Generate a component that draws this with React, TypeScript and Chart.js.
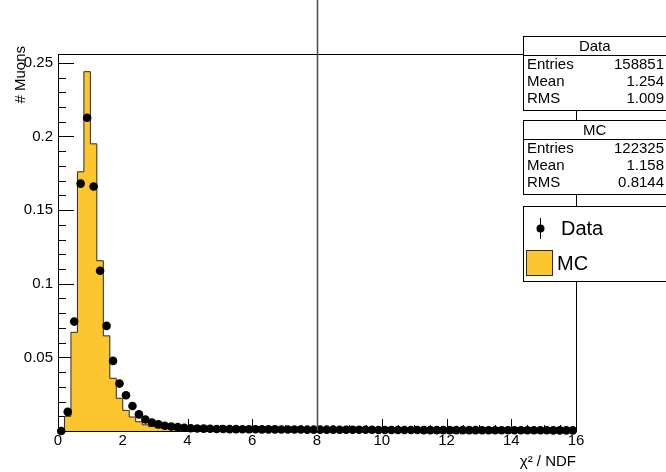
import React, { useEffect, useRef } from "react";
import { Chart, registerables } from "chart.js";

Chart.register(...registerables);

// ---- axis settings ----
const X_MIN = 0;
const X_MAX = 16;
const Y_MIN = 0;
const Y_MAX = 0.256;
const BIN_WIDTH = 0.2;
const X_TICK_STEP = 2;
const Y_TICK_STEP = 0.05;

// ---- series (fraction of muons per 0.2 bin of chi2/NDF) ----
const dataValues: number[] = [
  0.0, 0.013, 0.0743, 0.168, 0.2127, 0.166, 0.1088, 0.0714, 0.0476, 0.0322,
  0.0243, 0.017, 0.0113, 0.0078, 0.0058, 0.0045, 0.0036, 0.003, 0.0026, 0.0022,
  0.0019, 0.0017, 0.0016, 0.0015, 0.0014, 0.0014, 0.0013, 0.0013, 0.0012, 0.0012,
  0.0012, 0.0011, 0.0011, 0.0011, 0.001, 0.001, 0.001, 0.001, 0.0009, 0.0009,
  0.0009, 0.0009, 0.0009, 0.0008, 0.0008, 0.0008, 0.0008, 0.0008, 0.0008, 0.0007,
  0.0007, 0.0007, 0.0007, 0.0007, 0.0007, 0.0007, 0.0006, 0.0006, 0.0006, 0.0006,
  0.0006, 0.0006, 0.0006, 0.0006, 0.0006, 0.0005, 0.0005, 0.0005, 0.0005, 0.0005,
  0.0005, 0.0005, 0.0005, 0.0005, 0.0005, 0.0005, 0.0004, 0.0004, 0.0004, 0.0004,
];

const mcValues: number[] = [
  0.0, 0.01, 0.067, 0.176, 0.244, 0.195, 0.1156, 0.0646, 0.0358, 0.0222,
  0.014, 0.0095, 0.0063, 0.0042, 0.003, 0.0022, 0.0016, 0.0012, 0.0009, 0.0007,
  0.0005, 0.0004, 0.0004, 0.0003, 0.0003, 0.0003, 0.0002, 0.0002, 0.0002, 0.0002,
  0.0001, 0.0001, 0.0001, 0.0001, 0.0001, 0.0001, 0.0001, 0.0001, 0.0001, 0.0001,
  0.0001, 0.0001, 0.0001, 0.0001, 0.0001, 0.0, 0.0, 0.0, 0.0, 0.0,
  0.0, 0.0, 0.0, 0.0, 0.0, 0.0, 0.0, 0.0, 0.0, 0.0,
  0.0, 0.0, 0.0, 0.0, 0.0, 0.0, 0.0, 0.0, 0.0, 0.0,
  0.0, 0.0, 0.0, 0.0, 0.0, 0.0, 0.0, 0.0, 0.0, 0.0,
];

const CUT_VALUE = 8;

const statLabels: string[] = ["Entries", "Mean", "RMS"];
const dataStats: string[] = ["158851", "1.254", "1.009"];
const mcStats: string[] = ["122325", "1.158", "0.8144"];

const legendLabels: string[] = ["Data", "MC"];
const xTitle = "\u03C7\u00B2 / NDF";
const yTitle = "# Muons";

// ---- styles ----
const FONT = '"Liberation Sans", Arial, Helvetica, sans-serif';
const MC_FILL = "#FDC62F";
const MC_LINE = "#2a2a2a";

const binCenters = dataValues.map((_, i) => X_MIN + BIN_WIDTH * (i + 0.5));

function drawStatBox(
  ctx: CanvasRenderingContext2D,
  top: number,
  title: string,
  values: string[]
) {
  const left = 523.5;
  const right = 667;
  const titleH = 19;
  const rowH = 17;
  const bottom = top + titleH + rowH * values.length + 4;
  ctx.save();
  ctx.fillStyle = "#fff";
  ctx.fillRect(left, top, right - left, bottom - top);
  ctx.strokeStyle = "#000";
  ctx.lineWidth = 1;
  ctx.strokeRect(left, top, right - left, bottom - top);
  ctx.beginPath();
  ctx.moveTo(left, top + titleH);
  ctx.lineTo(right, top + titleH);
  ctx.stroke();
  ctx.fillStyle = "#000";
  ctx.font = `15px ${FONT}`;
  ctx.textBaseline = "middle";
  ctx.textAlign = "center";
  ctx.fillText(title, (left + 666) / 2, top + titleH / 2 + 0.5);
  values.forEach((v, i) => {
    const y = top + titleH + rowH * (i + 0.5) + 0.5;
    ctx.textAlign = "left";
    ctx.fillText(statLabels[i], left + 3.5, y);
    ctx.textAlign = "right";
    ctx.fillText(v, 664, y);
  });
  ctx.restore();
}

const framePlugin = {
  id: "rootFrame",
  beforeDatasetsDraw(chart: any) {
    const { ctx, chartArea } = chart;
    const xs = chart.scales.x;
    const ys = chart.scales.y;
    const { left, right, top, bottom } = chartArea;
    ctx.save();
    ctx.strokeStyle = "#000";
    ctx.lineWidth = 1;
    ctx.strokeRect(Math.round(left) + 0.5, Math.round(top) + 0.5, Math.round(right - left), Math.round(bottom - top));
    ctx.beginPath();
    // x ticks (inward)
    for (let v = X_MIN; v <= X_MAX + 1e-9; v += 0.5) {
      const px = Math.round(xs.getPixelForValue(v)) + 0.5;
      const major = Math.abs(v / X_TICK_STEP - Math.round(v / X_TICK_STEP)) < 1e-6;
      const len = major ? 12 : 6;
      ctx.moveTo(px, bottom);
      ctx.lineTo(px, bottom - len);
    }
    // y ticks (inward)
    for (let k = 0; k <= 25; k++) {
      const v = k * 0.01;
      const py = Math.round(ys.getPixelForValue(v)) + 0.5;
      const major = k % 5 === 0;
      const len = major ? 16 : 8;
      ctx.moveTo(left, py);
      ctx.lineTo(left + len, py);
    }
    ctx.stroke();
    ctx.restore();
  },
  afterDraw(chart: any) {
    const { ctx, chartArea } = chart;
    const xs = chart.scales.x;
    ctx.save();
    // cut line
    const cx = Math.round(xs.getPixelForValue(CUT_VALUE)) + 0.5;
    ctx.strokeStyle = "#4a4a4a";
    ctx.lineWidth = 1.5;
    ctx.beginPath();
    ctx.moveTo(cx, 0);
    ctx.lineTo(cx, chartArea.bottom);
    ctx.stroke();

    // axis titles
    ctx.fillStyle = "#000";
    ctx.font = `15px ${FONT}`;
    ctx.textAlign = "right";
    ctx.textBaseline = "alphabetic";
    ctx.fillText(xTitle, chartArea.right, 466);
    ctx.save();
    ctx.translate(25, chartArea.top - 8);
    ctx.rotate(-Math.PI / 2);
    ctx.textAlign = "right";
    ctx.fillText(yTitle, 0, 0);
    ctx.restore();
    ctx.restore();

    // stat boxes
    drawStatBox(ctx, 36.5, "Data", dataStats);
    drawStatBox(ctx, 120.5, "MC", mcStats);

    // legend box
    ctx.save();
    const lt = 206.5;
    const lb = 281.5;
    ctx.fillStyle = "#fff";
    ctx.fillRect(523.5, lt, 144, lb - lt);
    ctx.strokeStyle = "#000";
    ctx.lineWidth = 1;
    ctx.strokeRect(523.5, lt, 144, lb - lt);
    // data entry
    ctx.beginPath();
    ctx.moveTo(540.5, 218);
    ctx.lineTo(540.5, 239);
    ctx.stroke();
    ctx.beginPath();
    ctx.arc(540.5, 228.5, 4, 0, Math.PI * 2);
    ctx.fillStyle = "#000";
    ctx.fill();
    ctx.font = `20px ${FONT}`;
    ctx.textBaseline = "middle";
    ctx.textAlign = "left";
    ctx.fillText(legendLabels[0], 561, 229);
    // mc entry
    ctx.fillStyle = MC_FILL;
    ctx.fillRect(526.5, 250.5, 26, 25);
    ctx.strokeStyle = MC_LINE;
    ctx.strokeRect(526.5, 250.5, 26, 25);
    ctx.fillStyle = "#000";
    ctx.fillText(legendLabels[1], 557, 264);
    ctx.restore();
  },
};

export default function App() {
  const canvasRef = useRef<HTMLCanvasElement | null>(null);

  useEffect(() => {
    const canvas = canvasRef.current;
    if (!canvas) return;
    const mcSteps = mcValues.map((v, i) => ({ x: X_MIN + BIN_WIDTH * i, y: v }));
    mcSteps.push({ x: X_MAX, y: mcValues[mcValues.length - 1] });
    const dataPoints = dataValues.map((v, i) => ({ x: binCenters[i], y: v }));

    const chart = new Chart(canvas, {
      type: "scatter",
      data: {
        datasets: [
          {
            type: "scatter",
            label: "Data",
            data: dataPoints,
            pointRadius: 4.3,
            pointHoverRadius: 4.3,
            pointBackgroundColor: "#000",
            pointBorderColor: "#000",
            pointBorderWidth: 0,
            showLine: false,
            clip: false as any,
          },
          {
            type: "line",
            label: "MC",
            data: mcSteps,
            stepped: "before",
            fill: "origin",
            backgroundColor: MC_FILL,
            borderColor: MC_LINE,
            borderWidth: 1,
            pointRadius: 0,
            pointHoverRadius: 0,
            tension: 0,
          } as any,
        ],
      },
      options: {
        responsive: false,
        devicePixelRatio: 1,
        animation: false,
        events: [],
        layout: { padding: { left: 0, top: 54, right: 90, bottom: 0 } },
        plugins: {
          legend: { display: false },
          tooltip: { enabled: false },
          title: { display: false },
        },
        scales: {
          x: {
            type: "linear",
            min: X_MIN,
            max: X_MAX,
            grid: { display: false, drawTicks: false },
            border: { display: false },
            ticks: {
              stepSize: X_TICK_STEP,
              color: "#000",
              font: { family: FONT, size: 15 },
              padding: 1,
              maxRotation: 0,
              autoSkip: false,
              includeBounds: false,
              callback: (v: any) => String(v),
            },
            afterFit: (s: any) => {
              s.height = 41;
            },
          },
          y: {
            type: "linear",
            min: Y_MIN,
            max: Y_MAX,
            grid: { display: false, drawTicks: false },
            border: { display: false },
            ticks: {
              stepSize: Y_TICK_STEP,
              color: "#000",
              font: { family: FONT, size: 15 },
              padding: 5,
              includeBounds: false,
              callback: (v: any) => (Math.abs(v) < 1e-9 ? "" : String(parseFloat(Number(v).toFixed(2)))),
            },
            afterFit: (s: any) => {
              s.width = 58;
            },
          },
        },
      },
      plugins: [framePlugin],
    });
    return () => chart.destroy();
  }, []);

  return (
    <div style={{ position: "fixed", left: 0, top: 0, width: 666, height: 472, background: "#fff" }}>
      <canvas ref={canvasRef} width={666} height={472} style={{ display: "block", width: 666, height: 472 }} />
    </div>
  );
}
